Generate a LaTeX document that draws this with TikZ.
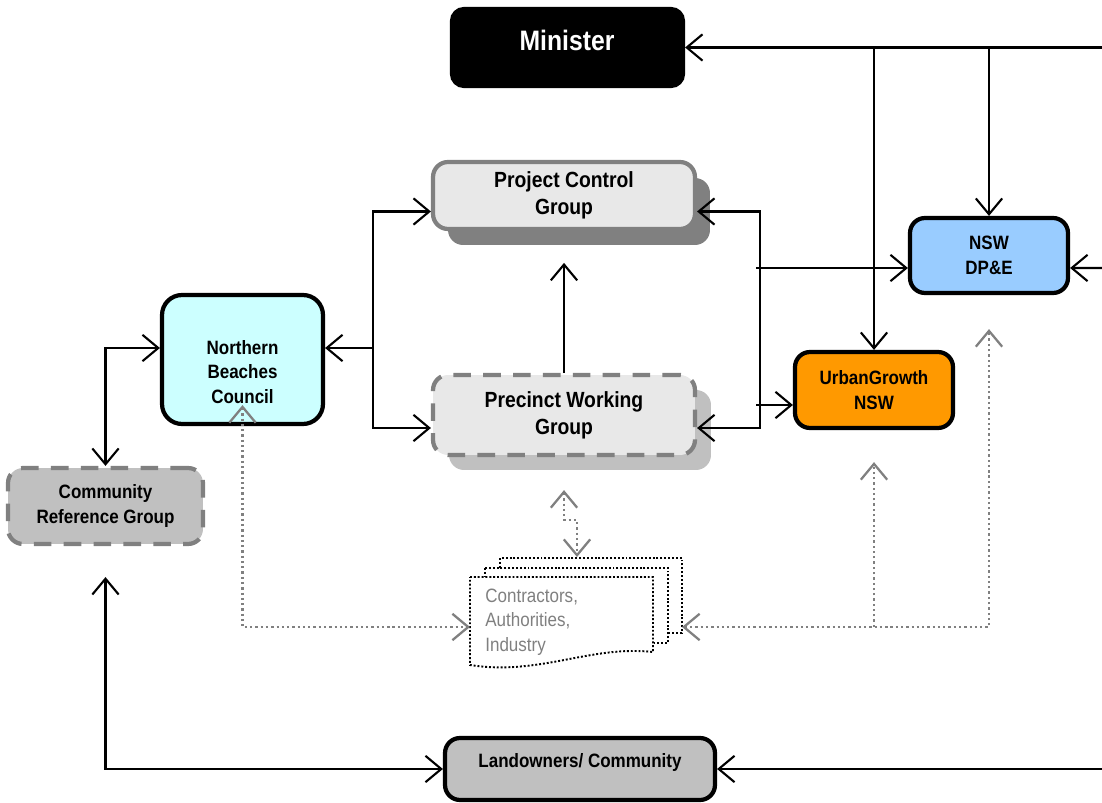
\documentclass[tikz,border=0pt]{standalone}
\usepackage{fontspec}
\setmainfont{Liberation Sans}[FakeStretch=0.88]
\usetikzlibrary{arrows.meta,shadows,positioning}

\definecolor{nbcblue}{HTML}{CCFFFF}
\definecolor{dpeblue}{HTML}{99CCFF}
\definecolor{ugorange}{HTML}{FF9900}
\definecolor{boxgrey}{HTML}{C0C0C0}
\definecolor{palegrey}{HTML}{E8E8E8}
\definecolor{midgrey}{HTML}{808080}

\tikzset{
  box/.style={draw=black, line width=2.4pt, rounded corners=0.3cm, align=center,
    font=\fontsize{11}{14}\selectfont\bfseries, inner sep=2pt},
  greybox/.style={box, draw=midgrey, fill=palegrey, font=\fontsize{12.5}{15.3}\selectfont\bfseries},
  dashbox/.style={dash pattern=on 10pt off 7pt},
  link/.style={line width=1.2pt, >={Straight Barb[length=9pt,width=15pt]}},
  dotlink/.style={link, draw=midgrey, line width=1.3pt, dash pattern=on 1.3pt off 1.7pt},
  page/.style={draw=black, fill=white, line width=1.1pt, dash pattern=on 1.1pt off 1.1pt},
}

\begin{document}
\begin{tikzpicture}[x=0.02cm, y=-0.02cm]
  \useasboundingbox (0,0) rectangle (1102,803);
  \newcommand{\shoffx}{0.3cm}
  % boxes
  \node[box, fill=black, minimum width=4.62cm, minimum height=1.54cm, rounded corners=0.24cm] (min) at (567.5,47.5) {};
  \node[text=white, font=\fontsize{16}{18}\selectfont\bfseries] (mintxt) at (567,40) {Minister};
  \node[greybox, minimum width=5.24cm, minimum height=1.34cm,
    drop shadow={shadow xshift=\shoffx, shadow yshift=-0.32cm, fill=midgrey, opacity=1}] (pcg) at (564,195.5) {Project Control\\Group};
  \node[greybox, dashbox, minimum width=5.24cm, minimum height=1.6cm,
    drop shadow={shadow xshift=0.32cm, shadow yshift=-0.3cm, fill=boxgrey, opacity=1}] (pwg) at (564,415) {Precinct Working\\Group};
  \node[box, fill=nbcblue, minimum width=3.22cm, minimum height=2.58cm, rounded corners=0.4cm] (nbc) at (242.5,359.5) {};
  \node[align=center, font=\fontsize{11}{13.9}\selectfont\bfseries] (nbctxt) at (242.5,372) {Northern\\Beaches\\Council};
  \node[box, draw=midgrey, dashbox, fill=boxgrey, minimum width=3.9cm, minimum height=1.52cm] (crg) at (105.5,506) {Community\\Reference Group};
  \node[box, fill=dpeblue, minimum width=3.16cm, minimum height=1.5cm] (dpe) at (989,255.5) {NSW\\DP\&E};
  \node[box, fill=ugorange, minimum width=3.16cm, minimum height=1.52cm] (ugn) at (874,390) {UrbanGrowth\\NSW};
  \node[box, fill=boxgrey, minimum width=5.4cm, minimum height=1.24cm] (lnd) at (580,769) {};
  \node[font=\fontsize{11}{14}\selectfont\bfseries] (lndtxt) at (580,763) {Landowners/ Community};

  % contractors stack
  \draw[page] (500,558) rectangle (682,633);
  \draw[page] (485,568) rectangle (668,643);
  \draw[page] (470,577) -- (653,577) -- (653,652) .. controls (590,645) and (540,676) .. (470,665) -- cycle;
  \node[anchor=west, inner sep=0pt, align=left, text=midgrey, font=\fontsize{11}{14}\selectfont] (doc) at (485,622) {Contractors,\\Authorities,\\Industry};

  \coordinate (minR) at (1102,47.5);
  \coordinate (dpeR) at (1102,268);
  \coordinate (lndR) at (1102,769);
  \coordinate (docW) at (470,627);
  \coordinate (docN) at (577,557);
  \coordinate (docE) at (682,627);

  % solid links
  \draw[link,->] (minR) -- (min.east);
  \draw[link,->] (ugn.north |- min.east) -- (ugn.north);
  \draw[link,->] (dpe.north |- min.east) -- (dpe.north);
  \draw[link,->] (dpeR) -- ([yshift=-.25cm]dpe.east);
  \draw[link,<->] ([yshift=-.32cm]pcg.east) -- ++(63,0) |- ([yshift=-.26cm]pwg.east);
  \draw[link,<-] ([yshift=-.25cm]dpe.west) -- ++(-152,0);
  \draw[link,<-] ([yshift=-.3cm]ugn.west) -- ++(-37,0);
  \draw[link,<->] ([yshift=-.32cm]pcg.west) -- ++(-58,0) |- ([yshift=-.26cm]pwg.west);
  \draw[link,<-] ([yshift=.23cm]nbc.east) -- ++(48,0);
  \draw[link,->] (pwg.north) -- ++(0,-110);
  \draw[link,<->] ([yshift=.23cm]nbc.west) -| (crg.north);
  \draw[link,<->] ([yshift=-.62cm]crg.south) |- (lnd.west);
  \draw[link,->] (lndR) -- (lnd.east);

  % dotted links
  \draw[dotlink,<->] ([yshift=.42cm]nbc.south) |- (docW);
  \draw[dotlink,<->] ([yshift=-.66cm]pwg.south) -- ++(0,30) -| (docN);
  \draw[dotlink,<->] (docE) -| ([yshift=-.68cm]dpe.south);
  \draw[dotlink,->] (ugn.south |- docE) -- ([yshift=-.64cm]ugn.south);
\end{tikzpicture}
\end{document}
